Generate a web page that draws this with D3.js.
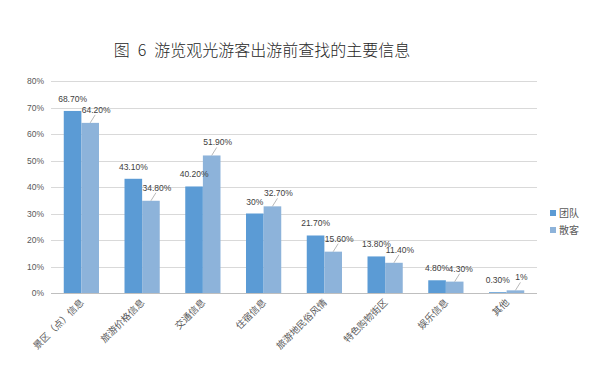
<!DOCTYPE html>
<html>
<head>
<meta charset="utf-8">
<script src="https://cdn.jsdelivr.net/npm/d3@7"></script>
<style>
  body { margin: 0; background: #fff; }
  svg { display: block; font-family: 'Liberation Sans', 'Noto Sans CJK SC', sans-serif; }
</style>
</head>
<body>
<svg id="chart" width="593" height="385"></svg>
<script>
const categories = ['景区（点）信息', '旅游价格信息', '交通信息', '住宿信息', '旅游地民俗风情', '特色购物街区', '娱乐信息', '其他']
const team = [68.7, 43.1, 40.2, 30, 21.7, 13.8, 4.8, 0.3]
const solo = [64.2, 34.8, 51.9, 32.7, 15.6, 11.4, 4.3, 1]
const teamLabels = ['68.70%', '43.10%', '40.20%', '30%', '21.70%', '13.80%', '4.80%', '0.30%']
const soloLabels = ['64.20%', '34.80%', '51.90%', '32.70%', '15.60%', '11.40%', '4.30%', '1%']
const seriesNames = ['团队', '散客']
const yTicks = [0, 10, 20, 30, 40, 50, 60, 70, 80]

const colors = ['#5b9bd5', '#8db3da']
const svg = d3.select('#chart')

const margin = { top: 81, left: 51, right: 56, bottom: 92 }
const width = 593 - margin.left - margin.right
const height = 385 - margin.top - margin.bottom

svg.append('text')
  .attr('x', 262).attr('y', 56)
  .attr('text-anchor', 'middle')
  .attr('font-family', "'Noto Sans CJK SC', sans-serif")
  .attr('font-weight', 300)
  .attr('font-size', 16)
  .attr('fill', '#262626')
  .text('图\u20026\u2002游览观光游客出游前查找的主要信息')

const g = svg.append('g').attr('transform', `translate(${margin.left}, ${margin.top})`)

const x = d3.scaleBand().domain(categories).range([0, width]).paddingInner(0.42).paddingOuter(0.21)
const y = d3.scaleLinear().domain([0, 80]).range([height, 0])

g.selectAll('.grid').data(yTicks)
  .enter().append('line')
  .attr('class', 'grid')
  .attr('x1', 0).attr('x2', width)
  .attr('y1', d => Math.round(y(d)) + 0.5).attr('y2', d => Math.round(y(d)) + 0.5)
  .attr('stroke', d => d === 0 ? '#bfbfbf' : '#d9d9d9')

g.selectAll('.ytick').data(yTicks)
  .enter().append('text')
  .attr('class', 'ytick')
  .attr('x', -7).attr('y', d => y(d) + 3)
  .attr('text-anchor', 'end')
  .attr('font-size', 8.5)
  .attr('fill', '#595959')
  .text(d => `${d}%`)

const bw = x.bandwidth() / 2
const rows = categories.map((c, i) => ({ c, t: team[i], s: solo[i], tl: teamLabels[i], sl: soloLabels[i] }))

const grp = g.selectAll('.grp').data(rows)
  .enter().append('g')
  .attr('class', 'grp')
  .attr('transform', d => `translate(${x(d.c)}, 0)`)

grp.append('rect')
  .attr('x', 0).attr('width', bw)
  .attr('y', d => y(d.t)).attr('height', d => height - y(d.t))
  .attr('fill', colors[0])

grp.append('rect')
  .attr('x', bw).attr('width', bw)
  .attr('y', d => y(d.s)).attr('height', d => height - y(d.s))
  .attr('fill', colors[1])

grp.append('text')
  .attr('x', bw / 2)
  .attr('y', d => y(d.t) - 9)
  .attr('text-anchor', 'middle')
  .attr('font-size', 8.5)
  .attr('fill', '#404040')
  .text(d => d.tl)

// solo labels sit up and to the right, with a small leader line
grp.append('line')
  .attr('x1', bw * 1.5).attr('y1', d => y(d.s))
  .attr('x2', bw * 1.5 + 5).attr('y2', d => y(d.s) - 8)
  .attr('stroke', '#a6a6a6')
  .attr('stroke-width', 0.8)

grp.append('text')
  .attr('x', bw * 1.5 + 6)
  .attr('y', d => y(d.s) - 10)
  .attr('text-anchor', 'middle')
  .attr('font-size', 8.5)
  .attr('fill', '#404040')
  .text(d => d.sl)

g.selectAll('.xlab').data(categories)
  .enter().append('text')
  .attr('class', 'xlab')
  .attr('transform', d => `translate(${x(d) + x.bandwidth() / 2 + 3}, ${height + 10}) rotate(-45)`)
  .attr('text-anchor', 'end')
  .attr('font-family', "'Noto Sans CJK SC', sans-serif")
  .attr('font-size', 9.5)
  .attr('fill', '#595959')
  .text(d => d)

const legend = svg.append('g').attr('transform', 'translate(550, 210)')
const li = legend.selectAll('g').data(seriesNames)
  .enter().append('g')
  .attr('transform', (d, i) => `translate(0, ${i * 17})`)
li.append('rect')
  .attr('width', 6).attr('height', 6)
  .attr('fill', (d, i) => colors[i])
li.append('text')
  .attr('x', 9).attr('y', 7)
  .attr('font-family', "'Noto Sans CJK SC', sans-serif")
  .attr('font-size', 10)
  .attr('fill', '#595959')
  .text(d => d)
</script>
</body>
</html>
